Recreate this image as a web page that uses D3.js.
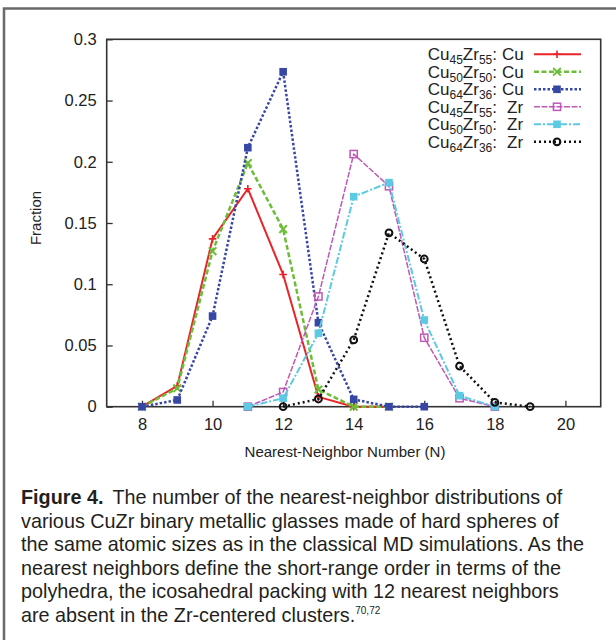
<!DOCTYPE html>
<html>
<head>
<meta charset="utf-8">
<script src="https://cdn.jsdelivr.net/npm/d3@7"></script>
<style>
  body { margin: 0; background: #fff; }
  svg { display: block; font-family: "Liberation Sans", Arial, sans-serif; }
</style>
</head>
<body>
<div id="chart"></div>
<script>
"use strict";
// nearest-neighbor number (x) for each series
const nCu = [8, 9, 10, 11, 12, 13, 14, 15];
const nCu64 = [8, 9, 10, 11, 12, 13, 14, 15, 16];
const nZr = [11, 12, 13, 14, 15, 16, 17, 18];
const nZr64 = [12, 13, 14, 15, 16, 17, 18, 19];

// fractions
const cu45zr55_Cu = [0, 0.017, 0.137, 0.178, 0.108, 0.008, 0, 0];
const cu50zr50_Cu = [0, 0.015, 0.127, 0.199, 0.145, 0.014, 0, 0];
const cu64zr36_Cu = [0, 0.0055, 0.074, 0.2115, 0.2735, 0.0686, 0.006, 0, 0];
const cu45zr55_Zr = [0, 0.012, 0.090, 0.2063, 0.180, 0.0563, 0.0069, 0];
const cu50zr50_Zr = [0, 0.0069, 0.060, 0.1715, 0.183, 0.0708, 0.009, 0];
const cu64zr36_Zr = [0, 0.0063, 0.0545, 0.142, 0.1206, 0.0332, 0.0036, 0];

const cuContent = [45, 50, 64, 45, 50, 64];
const zrContent = [55, 50, 36, 55, 50, 36];
const centers = ["Cu", "Cu", "Cu", "Zr", "Zr", "Zr"];

const xTicks = [8, 10, 12, 14, 16, 18, 20];
const yTicks = [0, 0.05, 0.1, 0.15, 0.2, 0.25, 0.3];

const captionLines = [
    "The number of the nearest-neighbor distributions of",
    "various CuZr binary metallic glasses made of hard spheres of",
    "the same atomic sizes as in the classical MD simulations. As the",
    "nearest neighbors define the short-range order in terms of the",
    "polyhedra, the icosahedral packing with 12 nearest neighbors",
    "are absent in the Zr-centered clusters."
];

// gnuplot-ish styles
const styles = [
    {color: "#ea2328", dash: null, width: 2, marker: "plus"},
    {color: "#6cbd38", dash: "5,2.5", width: 2.5, marker: "cross"},
    {color: "#3647a6", dash: "2.5,2", width: 2.5, marker: "fsquare"},
    {color: "#bf58b6", dash: "6,1.5", width: 1.5, marker: "osquare"},
    {color: "#5ccae2", dash: "7,2,2,2", width: 2, marker: "fsquare"},
    {color: "#111111", dash: "2,3", width: 2.5, marker: "circle"}
];

const series = [
    d3.zip(nCu, cu45zr55_Cu),
    d3.zip(nCu, cu50zr50_Cu),
    d3.zip(nCu64, cu64zr36_Cu),
    d3.zip(nZr, cu45zr55_Zr),
    d3.zip(nZr, cu50zr50_Zr),
    d3.zip(nZr64, cu64zr36_Zr)
];

const width = 616, height = 640;
const marginLeft = 106.7, marginRight = 15.3, marginTop = 39.3, plotBottom = 406.7;

const svg = d3.select("#chart").append("svg")
    .attr("width", width)
    .attr("height", height)
    .attr("viewBox", [0, 0, width, height]);

// outer figure frame (top and left rule)
svg.append("path")
    .attr("d", `M4,640 V8.5 H616`)
    .attr("fill", "none")
    .attr("stroke", "#6a6a6a")
    .attr("stroke-width", 2.5);

const x = d3.scaleLinear().domain([7, 21]).range([marginLeft, width - marginRight]);
const y = d3.scaleLinear().domain([0, 0.3]).range([plotBottom, marginTop]);

svg.append("g")
    .attr("transform", `translate(0,${plotBottom})`)
    .call(d3.axisBottom(x).tickValues(xTicks).tickSizeInner(-6).tickSizeOuter(0).tickPadding(12))
    .call(g => g.select(".domain").remove())
    .call(g => g.selectAll("line").attr("stroke", "#333").attr("stroke-width", 1.3))
    .call(g => g.selectAll("text").attr("font-size", 16.5).attr("fill", "#222")
        .attr("font-family", "Liberation Sans, Arial, sans-serif"));

svg.append("g")
    .attr("transform", `translate(${marginLeft},0)`)
    .call(d3.axisLeft(y).tickValues(yTicks).tickSizeInner(-6).tickSizeOuter(0).tickPadding(10)
        .tickFormat(d3.format(".2~f")))
    .call(g => g.select(".domain").remove())
    .call(g => g.selectAll("line").attr("stroke", "#333").attr("stroke-width", 1.3))
    .call(g => g.selectAll("text").attr("font-size", 16.5).attr("fill", "#222")
        .attr("font-family", "Liberation Sans, Arial, sans-serif"));

// plot border
svg.append("rect")
    .attr("x", marginLeft)
    .attr("y", marginTop)
    .attr("width", width - marginRight - marginLeft)
    .attr("height", plotBottom - marginTop)
    .attr("fill", "none")
    .attr("stroke", "#333")
    .attr("stroke-width", 1.6);

svg.append("text")
    .attr("transform", `translate(37,218) rotate(-90)`)
    .attr("text-anchor", "middle")
    .attr("dominant-baseline", "middle")
    .attr("font-size", 15)
    .attr("fill", "#222")
    .text("Fraction");

svg.append("text")
    .attr("x", 345)
    .attr("y", 457)
    .attr("text-anchor", "middle")
    .attr("font-size", 15)
    .attr("fill", "#222")
    .text("Nearest-Neighbor Number (N)");

function drawMarker(g, type, color, cx, cy) {
    const s = 3.8;
    if (type === "plus") {
        g.append("path").attr("d", `M${cx - s},${cy}H${cx + s}M${cx},${cy - s}V${cy + s}`)
            .attr("stroke", color).attr("stroke-width", 1.6).attr("fill", "none");
    } else if (type === "cross") {
        g.append("path").attr("d", `M${cx - s},${cy - s}L${cx + s},${cy + s}M${cx - s},${cy + s}L${cx + s},${cy - s}`)
            .attr("stroke", color).attr("stroke-width", 2).attr("fill", "none");
    } else if (type === "fsquare") {
        g.append("rect").attr("x", cx - 3.8).attr("y", cy - 3.8).attr("width", 7.6).attr("height", 7.6)
            .attr("fill", color);
    } else if (type === "osquare") {
        g.append("rect").attr("x", cx - 3.6).attr("y", cy - 3.6).attr("width", 7.2).attr("height", 7.2)
            .attr("fill", "none").attr("stroke", color).attr("stroke-width", 1.5);
    } else if (type === "circle") {
        g.append("circle").attr("cx", cx).attr("cy", cy).attr("r", 3.4)
            .attr("fill", "none").attr("stroke", color).attr("stroke-width", 2);
    }
}

const line = d3.line().x(d => x(d[0])).y(d => y(d[1]));

series.forEach((data, i) => {
    const st = styles[i];
    const g = svg.append("g");
    g.append("path")
        .datum(data)
        .attr("d", line)
        .attr("fill", "none")
        .attr("stroke", st.color)
        .attr("stroke-width", st.width)
        .attr("stroke-dasharray", st.dash)
        .attr("stroke-linejoin", "round");
    data.forEach(d => drawMarker(g, st.marker, st.color, x(d[0]), y(d[1])));
});

// legend
const legendTop = 54.3, legendStep = 17.5;
series.forEach((data, i) => {
    const st = styles[i];
    const ly = legendTop + i * legendStep;
    const t = svg.append("text")
        .attr("x", 497)
        .attr("y", ly + 6)
        .attr("text-anchor", "end")
        .attr("font-size", 17)
        .attr("fill", "#222");
    t.append("tspan").text("Cu");
    t.append("tspan").attr("font-size", 12).attr("dy", 4).text(cuContent[i]);
    t.append("tspan").attr("dy", -4).text("Zr");
    t.append("tspan").attr("font-size", 12).attr("dy", 4).text(zrContent[i]);
    t.append("tspan").attr("dy", -4).text(":");
    svg.append("text")
        .attr("x", centers[i] === "Cu" ? 502 : 507)
        .attr("y", ly + 6)
        .attr("font-size", 17)
        .attr("fill", "#222")
        .text(centers[i]);
    const lg = svg.append("g");
    lg.append("line")
        .attr("x1", 534).attr("x2", 581)
        .attr("y1", ly).attr("y2", ly)
        .attr("stroke", st.color)
        .attr("stroke-width", st.width)
        .attr("stroke-dasharray", st.dash);
    drawMarker(lg, st.marker, st.color, 557, ly);
});

// caption
const caption = svg.append("text")
    .attr("font-size", 19.8)
    .attr("fill", "#231f20");
captionLines.forEach((txt, i) => {
    const tl = caption.append("tspan")
        .attr("x", 21)
        .attr("y", 504 + i * 23.6);
    if (i === 0) {
        tl.append("tspan").attr("font-weight", "bold").text("Figure 4.");
        tl.append("tspan").attr("dx", 9).text(txt);
    } else {
        tl.text(txt);
    }
});
caption.append("tspan")
    .attr("font-size", 10)
    .attr("dy", -8)
    .text("70,72");
</script>
</body>
</html>
